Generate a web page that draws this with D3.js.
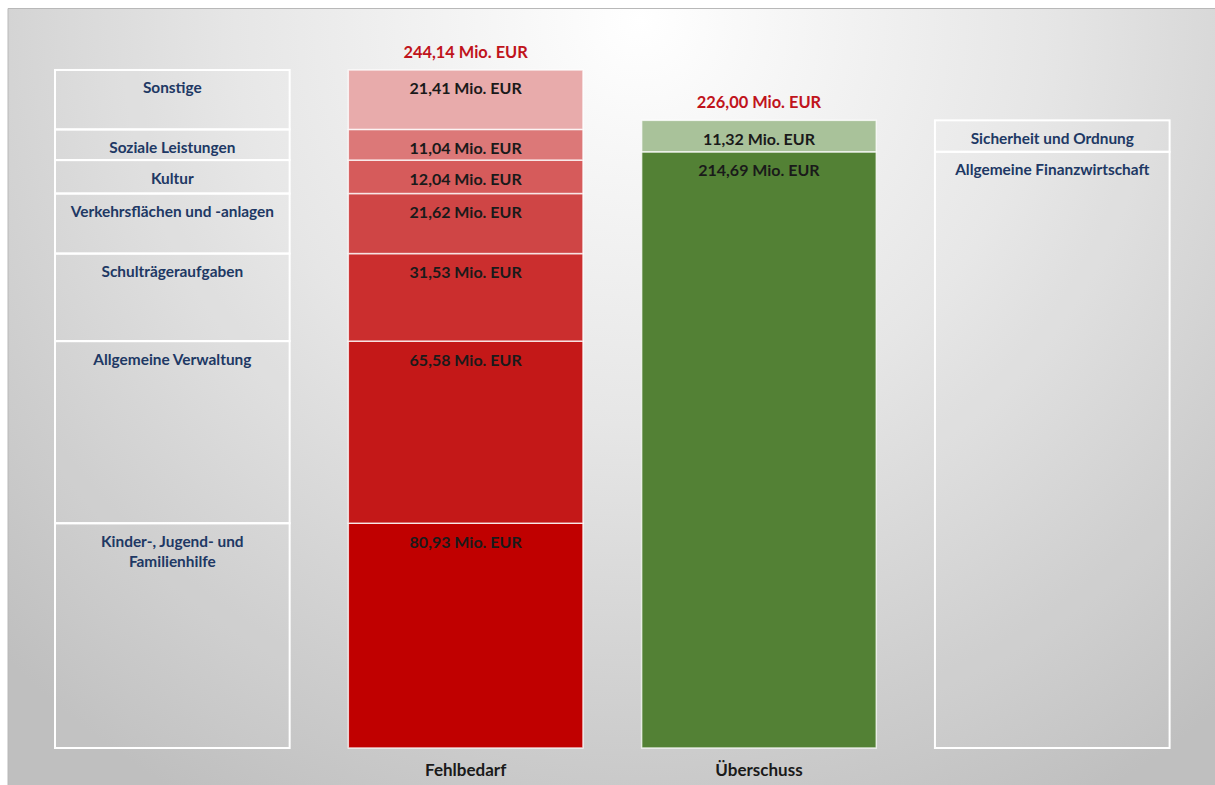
<!DOCTYPE html>
<html>
<head>
<meta charset="utf-8">
<script src="https://cdn.jsdelivr.net/npm/d3@7"></script>
<style>
  body { margin: 0; background: #fff; }
  svg { display: block; font-family: Lato, "Open Sans", sans-serif; }
</style>
</head>
<body>
<svg></svg>
<script>
// columns of the chart
let columns = ["links", "Fehlbedarf", "Überschuss", "rechts"]

// Fehlbedarf, from bottom to top
let fehlLabels = [["Kinder-, Jugend- und", "Familienhilfe"], ["Allgemeine Verwaltung"], ["Schulträgeraufgaben"],
                  ["Verkehrsflächen und -anlagen"], ["Kultur"], ["Soziale Leistungen"], ["Sonstige"]]
let fehlValues = [80.93, 65.58, 31.53, 21.62, 12.04, 11.04, 21.41]
let fehlColors = ["#c00000", "#c41818", "#cb2e2e", "#cf4545", "#d65b5b", "#dc7878", "#e8abab"]

// Überschuss, from bottom to top
let uebLabels = [["Allgemeine Finanzwirtschaft"], ["Sicherheit und Ordnung"]]
let uebValues = [214.69, 11.32]
let uebColors = ["#538135", "#a9c29a"]

let totals = [244.14, 226.00]

let width = 1215
let height = 785

let svg = d3.select("svg").attr("width", width).attr("height", height)

let de = d3.formatLocale({decimal: ",", thousands: ".", grouping: [3], currency: ["", " €"]})
let fmt = (v) => de.format(",.2f")(v) + " Mio. EUR"

// background
let defs = svg.append("defs")
let grad = defs.append("radialGradient")
  .attr("id", "bg")
  .attr("gradientUnits", "userSpaceOnUse")
  .attr("cx", 640).attr("cy", 20).attr("r", 900)
grad.append("stop").attr("offset", "0%").attr("stop-color", "#ffffff")
grad.append("stop").attr("offset", "45%").attr("stop-color", "#e6e6e6")
grad.append("stop").attr("offset", "80%").attr("stop-color", "#cdcdcd")
grad.append("stop").attr("offset", "100%").attr("stop-color", "#bfbfbf")

svg.append("rect").attr("x", 8).attr("y", 8).attr("width", width - 8).attr("height", height - 8)
  .attr("fill", "url(#bg)")
svg.append("path").attr("d", `M8,${height}V8.5H${width}`)
  .attr("fill", "none").attr("stroke", "#b8b8b8").attr("stroke-width", 1)

let xScale = d3.scaleBand().domain(columns).range([55, 1169.6]).paddingInner(0.2).paddingOuter(0)
let yScale = d3.scaleLinear().domain([0, totals[0]]).range([748, 70])

let stackUp = (values) => {
  let acc = 0
  return values.map((v, i) => {
    let s = {i: i, v: v, y0: acc, y1: acc + v}
    acc += v
    return s
  })
}

let fehl = stackUp(fehlValues)
let ueb = stackUp(uebValues)
let bw = xScale.bandwidth()

let drawBar = (col, stack, colors) => {
  let g = svg.append("g")
  g.selectAll("rect").data(stack).enter().append("rect")
    .attr("x", xScale(col))
    .attr("width", bw)
    .attr("y", (d) => yScale(d.y1))
    .attr("height", (d) => yScale(d.y0) - yScale(d.y1))
    .attr("fill", (d) => colors[d.i])
    .attr("stroke", "#ffffff").attr("stroke-opacity", 0.75).attr("stroke-width", 1.5)
  g.selectAll("text").data(stack).enter().append("text")
    .attr("x", xScale(col) + bw / 2)
    .attr("y", (d) => yScale(d.y1) + 24.5)
    .attr("text-anchor", "middle")
    .attr("font-size", 16).attr("font-weight", "bold").attr("fill", "#1a1a1a")
    .text((d) => fmt(d.v))
}

let drawLabels = (col, stack, labels) => {
  let g = svg.append("g")
  g.selectAll("rect").data(stack).enter().append("rect")
    .attr("x", xScale(col))
    .attr("width", bw)
    .attr("y", (d) => yScale(d.y1))
    .attr("height", (d) => yScale(d.y0) - yScale(d.y1))
    .attr("fill", "#ffffff").attr("fill-opacity", 0.06)
    .attr("stroke", "#ffffff").attr("stroke-width", 2)
  let t = g.selectAll("text").data(stack).enter().append("text")
    .attr("x", xScale(col) + bw / 2)
    .attr("y", (d) => yScale(d.y1) + 23.5)
    .attr("text-anchor", "middle")
    .attr("font-size", 15.4).attr("font-weight", "bold").attr("fill", "#203864")
  t.selectAll("tspan").data((d) => labels[d.i]).enter().append("tspan")
    .attr("x", xScale(col) + bw / 2)
    .attr("dy", (d, i) => i == 0 ? 0 : 20)
    .text((d) => d)
}

drawLabels("links", fehl, fehlLabels)
drawBar("Fehlbedarf", fehl, fehlColors)
drawBar("Überschuss", ueb, uebColors)
drawLabels("rechts", ueb, uebLabels)

// totals above the bars
svg.selectAll(".total").data(totals).enter().append("text")
  .attr("class", "total")
  .attr("x", (d, i) => xScale(columns[i + 1]) + bw / 2)
  .attr("y", (d) => yScale(d) - 12.5)
  .attr("text-anchor", "middle")
  .attr("font-size", 16.4).attr("font-weight", "bold").attr("fill", "#c0141c")
  .text((d) => fmt(d))

// category labels below
svg.selectAll(".cat").data(["Fehlbedarf", "Überschuss"]).enter().append("text")
  .attr("class", "cat")
  .attr("x", (d) => xScale(d) + bw / 2)
  .attr("y", 776)
  .attr("text-anchor", "middle")
  .attr("font-size", 17).attr("font-weight", "bold").attr("fill", "#1a1a1a")
  .text((d) => d)
</script>
</body>
</html>
